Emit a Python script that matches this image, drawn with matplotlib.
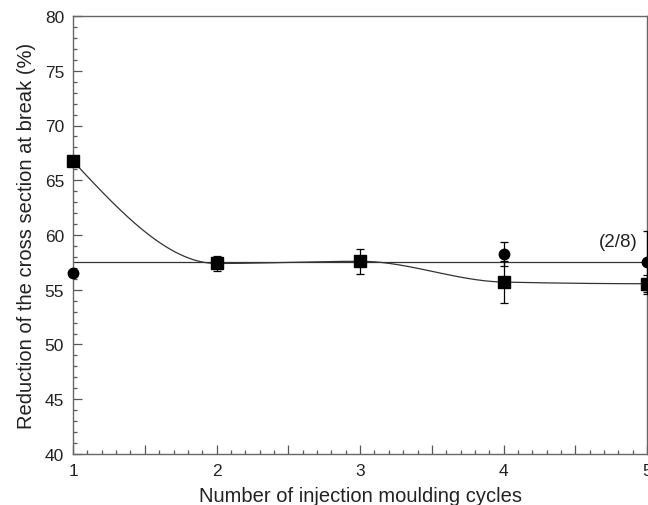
import numpy as np
import matplotlib
matplotlib.use('Agg')
import matplotlib.pyplot as plt
from matplotlib.ticker import MultipleLocator, FuncFormatter

plt.rcParams['font.family'] = ['Liberation Sans', 'DejaVu Sans']

# data
cycles = [1, 2, 3, 4, 5]
sq_val = [66.75, 57.4, 57.6, 55.7, 55.55]
sq_err = [0.0, 0.65, 1.15, 1.95, 0.8]
ci_val = [56.5, 57.4, 57.6, 58.3, 57.5]
ci_err = [0.0, 0.0, 0.0, 1.1, 2.9]
ci_mean = 57.5
note = '(2/8)'


def pchip(x, y, xs):
    # monotone cubic through the points (Fritsch-Carlson)
    x = np.asarray(x, float)
    y = np.asarray(y, float)
    h = np.diff(x)
    d = np.diff(y) / h
    m = np.zeros_like(y)
    for k in range(1, len(x) - 1):
        if d[k-1] * d[k] > 0:
            w1 = 2*h[k] + h[k-1]
            w2 = h[k] + 2*h[k-1]
            m[k] = (w1 + w2) / (w1/d[k-1] + w2/d[k])
    m[0] = ((2*h[0] + h[1])*d[0] - h[0]*d[1]) / (h[0] + h[1])
    if np.sign(m[0]) != np.sign(d[0]):
        m[0] = 0
    m[-1] = ((2*h[-1] + h[-2])*d[-1] - h[-1]*d[-2]) / (h[-1] + h[-2])
    if np.sign(m[-1]) != np.sign(d[-1]):
        m[-1] = 0
    idx = np.clip(np.searchsorted(x, xs) - 1, 0, len(x) - 2)
    t = (xs - x[idx]) / h[idx]
    h00 = 2*t**3 - 3*t**2 + 1
    h10 = t**3 - 2*t**2 + t
    h01 = -2*t**3 + 3*t**2
    h11 = t**3 - t**2
    return h00*y[idx] + h10*h[idx]*m[idx] + h01*y[idx+1] + h11*h[idx]*m[idx+1]


fig = plt.figure(figsize=(6.48, 5.06), dpi=100)
ax = fig.add_axes([0.1127, 0.1008, 0.886, 0.8656])

xs = np.linspace(1, 5, 400)
ax.plot(xs, pchip(cycles, sq_val, xs), color='#333333', lw=0.9, zorder=2)
ax.axhline(ci_mean, color='#333333', lw=0.9, zorder=2)

ax.errorbar(cycles, ci_val, yerr=ci_err, fmt='o', color='black', ms=7.5,
            capsize=3, elinewidth=0.9, capthick=0.9, zorder=3, clip_on=False)
ax.errorbar(cycles, sq_val, yerr=sq_err, fmt='s', color='black', ms=8.5,
            capsize=3, elinewidth=0.9, capthick=0.9, zorder=4, clip_on=False)

ax.text(4.8, 59.4, note, fontsize=13.5, color='#222222', ha='center', va='center')

ax.set_xlim(1, 5)
ax.set_ylim(40, 80)
ax.xaxis.set_major_locator(MultipleLocator(0.5))
ax.xaxis.set_major_formatter(FuncFormatter(lambda v, p: '%d' % v if abs(v - round(v)) < 1e-6 else ''))
ax.xaxis.set_minor_locator(MultipleLocator(0.1))
ax.yaxis.set_major_locator(MultipleLocator(5))
ax.yaxis.set_minor_locator(MultipleLocator(1))
ax.tick_params(which='both', direction='in', top=False, right=False,
               color='#555555', width=0.9)
ax.tick_params(which='major', length=6.5, labelsize=12.5, labelcolor='#222222', pad=6.5)
ax.tick_params(which='minor', length=3)
for s in ax.spines.values():
    s.set_color('#666666')
    s.set_linewidth(1.0)

ax.set_xlabel('Number of injection moulding cycles', fontsize=14.5, color='#222222', labelpad=6)
ax.set_ylabel('Reduction of the cross section at break (%)', fontsize=14.5, color='#222222', labelpad=6)

fig.savefig('out.png', dpi=100)
